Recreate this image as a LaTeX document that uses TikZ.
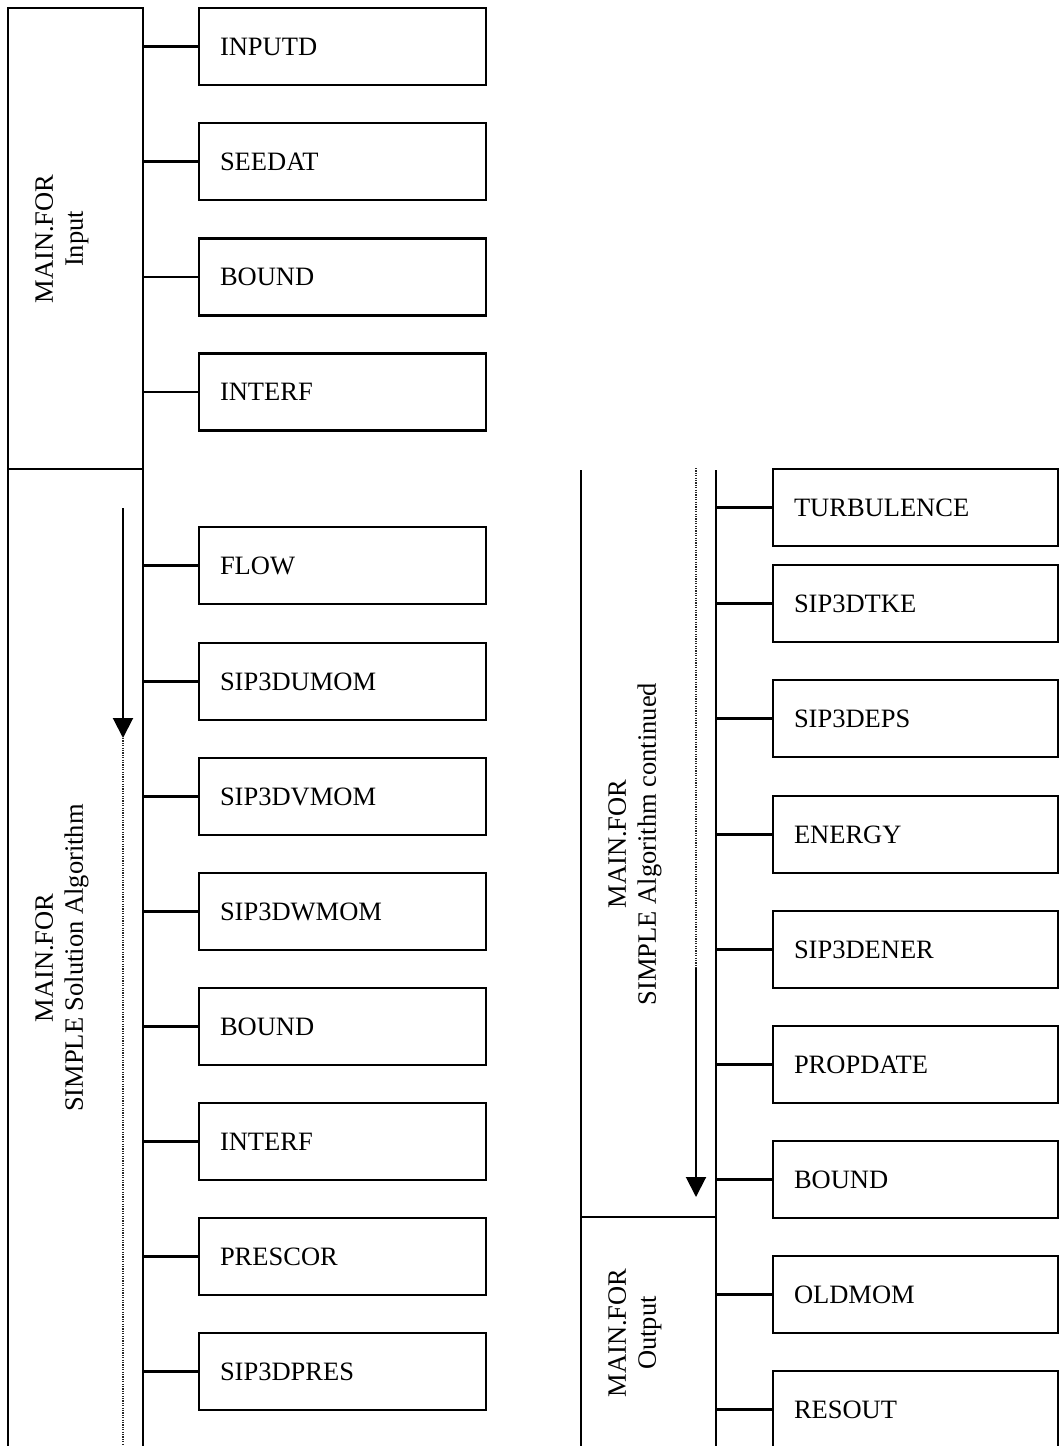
\documentclass[tikz,border=0pt]{standalone}
\usepackage{fontspec}
\setmainfont{Liberation Serif}
\usetikzlibrary{arrows.meta}
\newcommand\lblfont{\fontsize{26.5}{30}\selectfont}
\begin{document}
\begin{tikzpicture}[x=1pt,y=-1pt,
  frame/.style={line width=2.2pt},
  link/.style={line width=2.2pt},
  routine/.style={draw, rectangle, line width=2.2pt, minimum height=77pt,
    inner xsep=21pt, inner ysep=0pt, align=left, font=\lblfont},
  lroutine/.style={routine, text width=245pt},
  rroutine/.style={routine, text width=243pt},
  section/.style={rotate=90, align=center, font=\lblfont},
  flow/.style={line width=2pt, -{Triangle[width=20pt,length=20pt]}},
  trail/.style={line width=1.4pt, dash pattern=on 1.2pt off 1.2pt, black!85}]
\useasboundingbox (0,0) rectangle (1059,1446);

% ---------------- left column: MAIN.FOR input and SIMPLE loop
\coordinate (ltop) at (8,8);
\coordinate (lspine) at (143,8);
\coordinate (lsplit) at (8,469);
\draw[frame] (8,1446) -- (ltop) -- (lspine) -- (143,1446);
\draw[frame] (lsplit) -- (lsplit -| lspine);

\node[section] (inlab) at (62,239) {MAIN.FOR\\Input};
\node[section] (simlab) at (62,958) {MAIN.FOR\\SIMPLE Solution Algorithm};

\coordinate (la0) at (123,508);
\coordinate (la1) at (123,738);
\coordinate (la2) at (123,1446);
\draw[flow] (la0) -- (la1);
\draw[trail] (la1) -- (la2);

\node[lroutine] (l1)  at (342.5,46.5)   {INPUTD};
\node[lroutine] (l2)  at (342.5,161.5)  {SEEDAT};
\node[lroutine] (l3)  at (342.5,277)    {BOUND};
\node[lroutine] (l4)  at (342.5,392)    {INTERF};
\node[lroutine] (l5)  at (342.5,565.5)  {FLOW};
\node[lroutine] (l6)  at (342.5,681.5)  {SIP3DUMOM};
\node[lroutine] (l7)  at (342.5,796.5)  {SIP3DVMOM};
\node[lroutine] (l8)  at (342.5,911.5)  {SIP3DWMOM};
\node[lroutine] (l9)  at (342.5,1026.5) {BOUND};
\node[lroutine] (l10) at (342.5,1141.5) {INTERF};
\node[lroutine] (l11) at (342.5,1256.5) {PRESCOR};
\node[lroutine] (l12) at (342.5,1371.5) {SIP3DPRES};
\foreach \i in {1,...,12}
  \draw[link] (l\i.west) -- (l\i.west -| lspine);

% ---------------- right column: SIMPLE loop continued and output
\coordinate (rleft) at (581,470);
\coordinate (rspine) at (716,470);
\coordinate (rsplit) at (581,1217);
\draw[frame] (rleft) -- (581,1446);
\draw[frame] (rspine) -- (716,1446);
\draw[frame] (rsplit) -- (rsplit -| rspine);

\node[section] (contlab) at (635,844) {MAIN.FOR\\SIMPLE Algorithm continued};
\node[section] (outlab) at (635,1333) {MAIN.FOR\\Output};

\coordinate (ra0) at (696,468);
\coordinate (ra1) at (696,968);
\coordinate (ra2) at (696,1197);
\draw[trail] (ra0) -- (ra1);
\draw[flow] (ra1) -- (ra2);

\node[rroutine] (r1) at (915.5,507.5)  {TURBULENCE};
\node[rroutine] (r2) at (915.5,603.5)  {SIP3DTKE};
\node[rroutine] (r3) at (915.5,718.5)  {SIP3DEPS};
\node[rroutine] (r4) at (915.5,834.5)  {ENERGY};
\node[rroutine] (r5) at (915.5,949.5)  {SIP3DENER};
\node[rroutine] (r6) at (915.5,1064.5) {PROPDATE};
\node[rroutine] (r7) at (915.5,1179.5) {BOUND};
\node[rroutine] (r8) at (915.5,1294.5) {OLDMOM};
\node[rroutine] (r9) at (915.5,1409.5) {RESOUT};
\foreach \i in {1,...,9}
  \draw[link] (r\i.west) -- (r\i.west -| rspine);
\end{tikzpicture}
\end{document}
